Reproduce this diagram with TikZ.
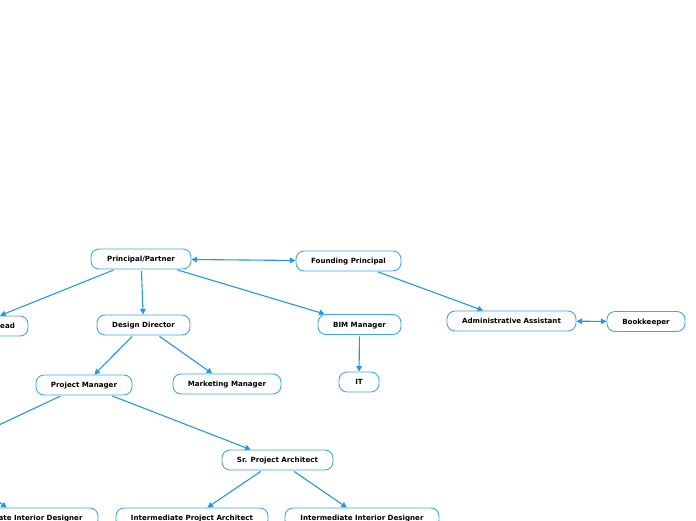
\documentclass[tikz,border=0pt]{standalone}
\usepackage{fontspec}
\setmainfont{DejaVu Sans}
\usetikzlibrary{arrows.meta}
\definecolor{edgeblue}{RGB}{36,150,226}
\definecolor{boxblue}{RGB}{64,166,234}
\tikzset{
  box/.style={draw=boxblue, line width=0.9pt, fill=white, rounded corners=8pt,
    minimum height=20pt, inner sep=0pt, text height=5.5pt, text depth=0pt,
    font=\fontsize{7.1}{8}\selectfont\bfseries, text=black},
  link/.style={draw=edgeblue, line width=1.1pt, shorten <=1.5pt,
    -{Triangle[length=5.5pt,width=5.5pt]}},
  link2/.style={draw=edgeblue, line width=1.1pt,
    {Triangle[length=5.5pt,width=5.5pt]}-{Triangle[length=5.5pt,width=5.5pt]}},
  plain/.style={draw=edgeblue, line width=1.1pt, shorten <=1.5pt}
}
\begin{document}
\begin{tikzpicture}[x=1pt,y=-1pt]
\useasboundingbox (0,0) rectangle (696,520);
\node[box, minimum width=100pt] (pp) at (141,259) {Principal/Partner};
\node[box, minimum width=105pt] (fp) at (348.5,261) {Founding Principal};
\node[box, minimum width=108pt] (lead) at (-26,326) {Interior Design Lead};
\node[box, minimum width=93pt] (dd) at (143.5,325) {Design Director};
\node[box, minimum width=83pt] (bim) at (359.5,324.5) {BIM Manager};
\node[box, minimum width=129pt] (aa) at (511.5,321) {Administrative Assistant};
\node[box, minimum width=78pt] (bk) at (646,321.5) {Bookkeeper};
\node[box, minimum width=96pt] (pm) at (84,385) {Project Manager};
\node[box, minimum width=108pt] (mm) at (227,384) {Marketing Manager};
\node[box, minimum width=40pt] (it) at (359,382) {IT};
\node[box, minimum width=111pt] (spa) at (277.5,460) {Sr. Project Architect};
\node[box, minimum width=152pt] (ipa) at (192,518) {Intermediate Project Architect};
\node[box, minimum width=154pt] (iid) at (362,518) {Intermediate Interior Designer};
\node[box, minimum width=154pt] (iidl) at (21,518) {Intermediate Interior Designer};
\coordinate (off) at (-65,455);

\draw[link2] (pp) -- (fp);
\draw[link] (pp) -- (lead);
\draw[link] (pp) -- (dd);
\draw[link] (pp) -- (bim);
\draw[link] (fp) -- (aa);
\draw[link2] (aa) -- (bk);
\draw[link] (dd) -- (pm);
\draw[link] (dd) -- (mm);
\draw[link] (bim) -- (it);
\draw[plain] (pm) -- (off);
\draw[link] (off) -- (iidl);
\draw[link] (pm) -- (spa);
\draw[link] (spa) -- (ipa);
\draw[link] (spa) -- (iid);
\end{tikzpicture}
\end{document}
